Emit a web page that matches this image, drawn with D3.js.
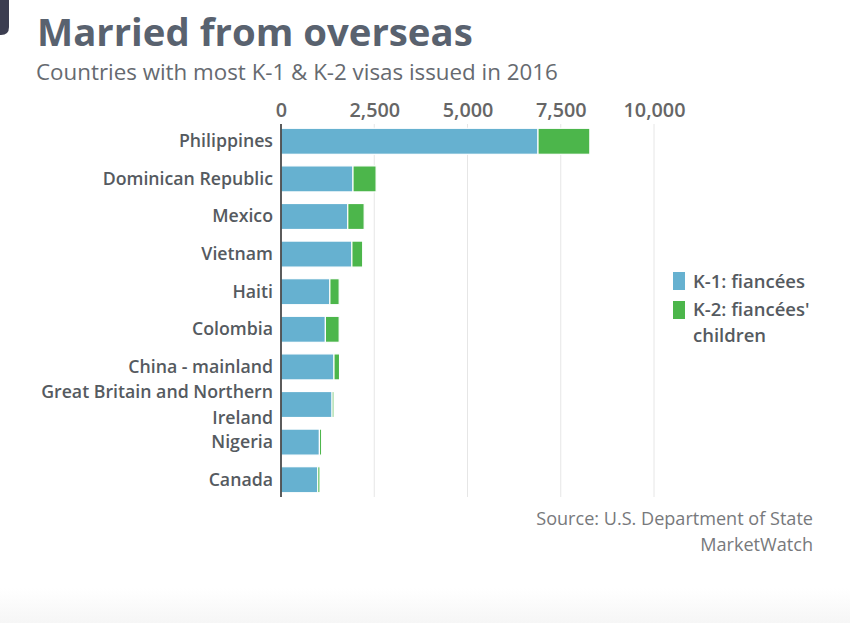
<!DOCTYPE html>
<html>
<head>
<meta charset="utf-8">
<script src="https://cdn.jsdelivr.net/npm/d3@7"></script>
<style>
  html, body { margin: 0; padding: 0; background: #fff; }
  svg { display: block; }
  text { font-family: "Open Sans", Lato, sans-serif; font-variant-ligatures: none; font-feature-settings: "liga" 0; }
</style>
</head>
<body>
<svg id="chart" width="850" height="623"></svg>
<script>
// ---- data ----
const countries = ["Philippines", "Dominican Republic", "Mexico", "Vietnam", "Haiti",
  "Colombia", "China - mainland", "Great Britain and Northern Ireland", "Nigeria", "Canada"];
const k1Values = [6890, 1930, 1790, 1900, 1310, 1190, 1420, 1370, 1030, 985];
const k2Values = [1390, 620, 440, 290, 250, 370, 150, 50, 60, 60];
const tickValues = [0, 2500, 5000, 7500, 10000];
const seriesNames = ["K-1: fiancées", "K-2: fiancées' children"];
const titleText = "Married from overseas";
const subtitleText = "Countries with most K-1 & K-2 visas issued in 2016";
const sourceLines = ["Source: U.S. Department of State", "MarketWatch"];

const colors = ["#66b1d0", "#4cb64b"];

const svg = d3.select("#chart");

// background bottom fade
const defs = svg.append("defs");
const grad = defs.append("linearGradient").attr("id", "fade").attr("x1", 0).attr("x2", 0).attr("y1", 0).attr("y2", 1);
grad.append("stop").attr("offset", "0%").attr("stop-color", "#ffffff");
grad.append("stop").attr("offset", "100%").attr("stop-color", "#f6f6f6");
svg.append("rect").attr("x", 0).attr("y", 588).attr("width", 850).attr("height", 35).attr("fill", "url(#fade)");

// dark corner tab
svg.append("path")
  .attr("d", "M0,0 H9 V27 Q9,35 1,35 H0 Z")
  .attr("fill", "#3b3d50");

// helper: font size that makes a text reach a target width
function fitSize(sel, targetWidth) {
  const fs = parseFloat(sel.attr("font-size"));
  const w = sel.node().getComputedTextLength();
  return w > 0 ? fs * targetWidth / w : fs;
}
function fitText(sel, targetWidth) {
  sel.attr("font-size", fitSize(sel, targetWidth).toFixed(2));
  return sel;
}

// title
fitText(svg.append("text")
  .attr("x", 37).attr("y", 46)
  .attr("font-family", "Lato, 'Open Sans', sans-serif")
  .attr("font-size", 31).attr("font-weight", 700)
  .attr("fill", "#59626f")
  .text(titleText), 436);

// subtitle
fitText(svg.append("text")
  .attr("x", 36).attr("y", 80)
  .attr("font-family", "Lato, 'Open Sans', sans-serif")
  .attr("font-size", 20).attr("font-weight", 400)
  .attr("fill", "#666a70")
  .text(subtitleText), 522);

// scales
const x = d3.scaleLinear().domain([0, 10000]).range([281, 654]);
const y = d3.scaleBand().domain(countries).range([124, 497]).paddingInner(0.3085).paddingOuter(0.114);

// gridlines
svg.append("g").selectAll("line")
  .data(tickValues.filter(d => d > 0))
  .join("line")
  .attr("x1", d => x(d)).attr("x2", d => x(d))
  .attr("y1", 124).attr("y2", 497)
  .attr("stroke", "#e6e6e6").attr("stroke-width", 1);

// top axis labels
const xAxis = d3.axisTop(x).tickValues(tickValues).tickSize(0).tickPadding(0)
  .tickFormat(d3.format(","));
const gx = svg.append("g").attr("transform", "translate(0,117)").call(xAxis);
gx.select(".domain").remove();
const tickTexts = gx.selectAll("text")
  .attr("font-family", "'Open Sans', Lato, sans-serif")
  .attr("font-size", 16).attr("font-weight", 600)
  .attr("fill", "#666").attr("dy", 0);
{
  const last = gx.selectAll("text").filter(d => d === 10000);
  const fs = fitSize(last, 62);
  tickTexts.attr("font-size", fs.toFixed(2));
}

// stacked bars
const stackData = countries.map((c, i) => ({ country: c, k1: k1Values[i], k2: k2Values[i] }));
const stack = d3.stack().keys(["k1", "k2"]);
const layers = stack(stackData);

svg.append("g").selectAll("g")
  .data(layers)
  .join("g")
  .attr("fill", (d, i) => colors[i])
  .selectAll("rect")
  .data(d => d)
  .join("rect")
  .attr("x", d => x(d[0]))
  .attr("y", d => y(d.data.country))
  .attr("width", d => Math.max(0, x(d[1]) - x(d[0])))
  .attr("height", y.bandwidth())
  .attr("stroke", "#ffffff").attr("stroke-width", 1.2);

// axis line
svg.append("line")
  .attr("x1", x(0)).attr("x2", x(0))
  .attr("y1", 124).attr("y2", 497)
  .attr("stroke", "#333").attr("stroke-width", 1.6);

// category labels
const labelG = svg.append("g");
const probe = labelG.append("text").attr("font-size", 16).attr("font-weight", 600).text("Great Britain and Northern");
const labelFont = fitSize(probe, 232);
probe.remove();
countries.forEach(c => {
  const cy = y(c) + y.bandwidth() / 2;
  const t = labelG.append("text")
    .attr("x", 273).attr("text-anchor", "end")
    .attr("font-size", labelFont.toFixed(2)).attr("font-weight", 600)
    .attr("fill", "#555a60");
  if (c === "Great Britain and Northern Ireland") {
    t.append("tspan").attr("x", 273).attr("y", cy - 12.5 + 6).text("Great Britain and Northern");
    t.append("tspan").attr("x", 273).attr("y", cy + 13 + 6).text("Ireland");
  } else {
    t.attr("y", cy + 6).text(c);
  }
});

// legend
const legend = svg.append("g");
legend.append("rect").attr("x", 673).attr("y", 272).attr("width", 12).attr("height", 18).attr("fill", colors[0]);
legend.append("rect").attr("x", 673).attr("y", 301).attr("width", 12).attr("height", 18).attr("fill", colors[1]);
const l1 = legend.append("text").attr("x", 693).attr("y", 288)
  .attr("font-size", 16).attr("font-weight", 600).attr("fill", "#555a60").text(seriesNames[0]);
const legendFont = fitSize(l1, 112);
l1.attr("font-size", legendFont.toFixed(2));
const lt = legend.append("text").attr("x", 693).attr("y", 316)
  .attr("font-size", legendFont.toFixed(2)).attr("font-weight", 600).attr("fill", "#555a60");
lt.append("tspan").attr("x", 693).attr("y", 316).text("K-2: fiancées'");
lt.append("tspan").attr("x", 693).attr("y", 342).text("children");

// source
const s1 = svg.append("text").attr("x", 813).attr("y", 525).attr("text-anchor", "end")
  .attr("font-size", 16).attr("fill", "#77797c").text(sourceLines[0]);
const sourceFont = fitSize(s1, 277);
s1.attr("font-size", sourceFont.toFixed(2));
svg.append("text").attr("x", 813).attr("y", 551).attr("text-anchor", "end")
  .attr("font-size", sourceFont.toFixed(2)).attr("fill", "#77797c").text(sourceLines[1]);
</script>
</body>
</html>
